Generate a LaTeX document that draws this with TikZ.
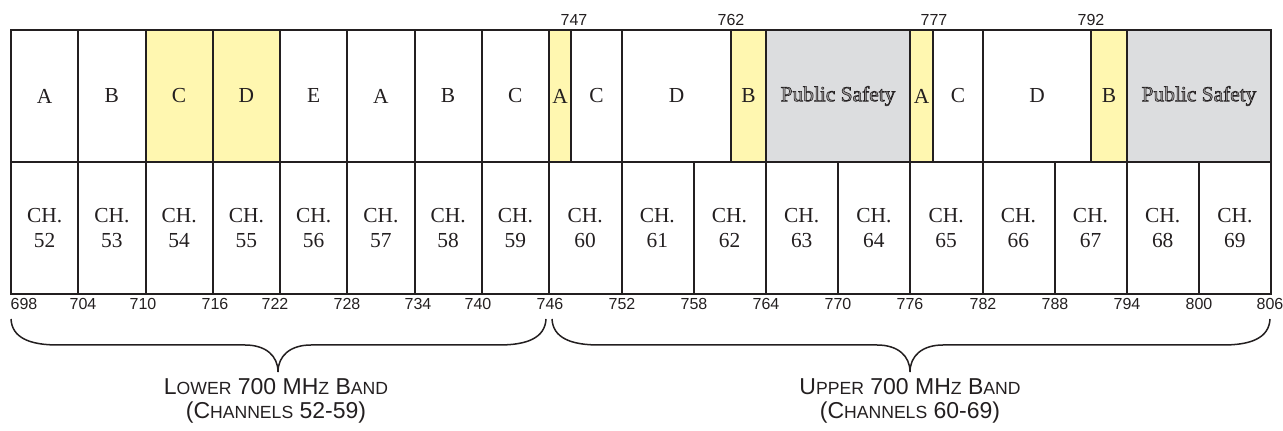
\documentclass[tikz,border=0pt]{standalone}
\usepackage{fontspec}
\setmainfont{Liberation Serif}
\newfontfamily\arialfont{Liberation Sans}
\usepackage{tikz}
\definecolor{lineblack}{HTML}{231F20}
\definecolor{blockyellow}{HTML}{FFF7B0}
\definecolor{safetygray}{HTML}{DCDDDF}
\newcommand{\smallcap}[1]{{\fontsize{8.8}{12}\selectfont #1}}
\newcommand{\outlined}[1]{\special{pdf:code q 0.137 0.122 0.125 RG 0.3 w 2 Tr}#1\special{pdf:code 0 Tr Q}}

\begin{document}
\begin{tikzpicture}[x=0.5pt,y=-0.5pt,
  grid/.style={line width=1pt,draw=lineblack},
  blk/.style={font=\fontsize{10.7}{12.5}\selectfont,text=lineblack,align=center,inner sep=0pt},
  mhz/.style={font=\arialfont\fontsize{8}{9}\selectfont,text=lineblack,inner sep=0pt},
  band/.style={font=\arialfont\fontsize{11.5}{12}\selectfont,text=lineblack,align=center,inner sep=0pt},
  bracket/.style={line width=0.75pt,draw=lineblack}]
\useasboundingbox (0,0) rectangle (1283,431);
% shaded blocks
\fill[blockyellow] (145.5,30) rectangle (280,162);
\fill[blockyellow] (549,30) rectangle (571,162);
\fill[blockyellow] (731,30) rectangle (766,162);
\fill[blockyellow] (910,30) rectangle (933,162);
\fill[blockyellow] (1091,30) rectangle (1127,162);
\fill[safetygray] (766,30) rectangle (910,162);
\fill[safetygray] (1127,30) rectangle (1271,162);
% frame
\draw[grid] (11,30) rectangle (1271,294);
\draw[grid] (11,162) -- (1271,162);
% lower band channels
\foreach \i in {1,...,8}
  \draw[grid] ({11+67.25*\i},30) -- ({11+67.25*\i},294);
% upper band, full height
\foreach \x in {622,766,910,983,1127}
  \draw[grid] (\x,30) -- (\x,294);
% upper band, top row only
\foreach \x in {571,731,933,1091}
  \draw[grid] (\x,30) -- (\x,162);
% upper band, bottom row only
\foreach \x in {694,838,1055,1199}
  \draw[grid] (\x,162) -- (\x,294);
% block letters
\foreach \t [count=\i from 0] in {A,B,C,D,E,A,B,C}
  \draw ({11+67.25*(\i+0.5)},96) node[blk] (lo\i) {\t};
\draw (560,96) node[blk] (upA1) {A};
\draw (596.5,96) node[blk] (upC1) {C};
\draw (676.5,96) node[blk] (upD1) {D};
\draw (748.5,96) node[blk] (upB1) {B};
\draw (838,96) node[blk,text=lineblack!45] (ps1) {\outlined{Public Safety}};
\draw (921.5,96) node[blk] (upA2) {A};
\draw (958,96) node[blk] (upC2) {C};
\draw (1037,96) node[blk] (upD2) {D};
\draw (1109,96) node[blk] (upB2) {B};
\draw (1199,96) node[blk,text=lineblack!45] (ps2) {\outlined{Public Safety}};
% channels
\foreach \n [count=\i from 0] in {52,...,59}
  \draw ({11+67.25*(\i+0.5)},228) node[blk] (ch\n) {CH.\\\n};
\foreach \n [count=\i from 0] in {60,...,69}
  \draw ({549+72.2*(\i+0.5)},228) node[blk] (ch\n) {CH.\\\n};
% frequencies
\foreach \x/\f in {24/698,83/704,143/710,215/716,275/722,347/728,418/734,478/740,550/746,
  622/752,694/758,766/764,838/770,910/776,983/782,1055/788,1127/794,1199/800,1270/806}
  \draw (\x,304) node[mhz] (f\f) {\f};
\foreach \x/\f in {574/747,731/762,934/777,1091/792}
  \draw (\x,20) node[mhz] (f\f) {\f};
% braces
\draw[bracket] (11,319) .. controls (12,338) and (30,345) .. (58,345) -- (245,345)
  .. controls (266,345) and (278,356) .. (278,372) .. controls (278,356) and (290,345) .. (311,345)
  -- (499,345) .. controls (527,345) and (545,338) .. (546,319);
\draw[bracket] (552,319) .. controls (553,338) and (571,345) .. (599,345) -- (877,345)
  .. controls (898,345) and (910,356) .. (910,372) .. controls (910,356) and (922,345) .. (943,345)
  -- (1223,345) .. controls (1251,345) and (1269,338) .. (1270,319);
% band names
\draw (276,401) node[band] (lower) {L\smallcap{OWER} 700 MH\smallcap{Z} B\smallcap{AND}\\(C\smallcap{HANNELS} 52-59)};
\draw (910,401) node[band] (upper) {U\smallcap{PPER} 700 MH\smallcap{Z} B\smallcap{AND}\\(C\smallcap{HANNELS} 60-69)};
\end{tikzpicture}
\end{document}
